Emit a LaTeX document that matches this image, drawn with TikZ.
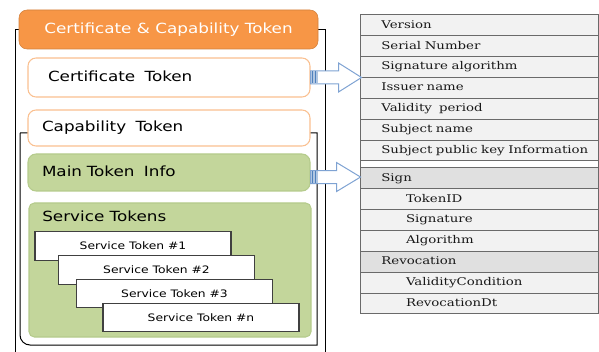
\documentclass[tikz,border=0pt]{standalone}
\usepackage{fontspec}
\usepackage{tikz}
\usetikzlibrary{positioning, calc}
\newfontfamily\gulim[FakeStretch=1.2]{DejaVu Sans}
\newfontfamily\batang[FakeStretch=1.25]{DejaVu Serif}
\definecolor{hdrorange}{HTML}{F79646}
\definecolor{tokedge}{HTML}{FAC090}
\definecolor{infogreen}{HTML}{C3D69B}
\definecolor{greenedge}{HTML}{B5CB8C}
\definecolor{arrowblue}{HTML}{7FA3D3}
\definecolor{stripeblue}{HTML}{4F81BD}
\definecolor{rowgray}{HTML}{F2F2F2}
\definecolor{signgray}{HTML}{E0E0E0}
\definecolor{rowline}{HTML}{6A6A6A}

\begin{document}
\begin{tikzpicture}[x=0.75pt, y=-0.75pt,
  frame/.style={draw=black, line width=0.75pt},
  header/.style={rectangle, rounded corners=6pt, fill=hdrorange, draw=hdrorange!85!black,
    minimum width=224.25pt, minimum height=29.25pt, text=white,
    font=\gulim\fontsize{10.5}{12}\selectfont},
  token/.style={rectangle, rounded corners=6pt, fill=white, draw=tokedge, line width=0.8pt,
    minimum width=211.5pt, align=left, text height=7.8pt, text depth=2.2pt,
    font=\gulim\fontsize{10.5}{12}\selectfont},
  info/.style={token, fill=infogreen, draw=greenedge},
  svcbox/.style={rectangle, draw=black!75, line width=0.9pt, fill=white, outer sep=0pt,
    minimum width=147pt, minimum height=21.4pt, font=\gulim\fontsize{7.7}{9}\selectfont},
  rowbase/.style={rectangle, draw=rowline, line width=0.75pt, fill=rowgray, outer sep=0pt,
    minimum height=15.64pt, inner xsep=0pt, inner ysep=0pt, text width=178.5pt, align=left,
    text height=6pt, text depth=1.8pt, font=\batang\fontsize{8}{9}\selectfont, text=black!90},
  row/.style={rowbase, execute at begin node={\hspace*{16pt}}},
  subrow/.style={rowbase, execute at begin node={\hspace*{34.5pt}}},
  signrow/.style={row, fill=signgray},
  gaprow/.style={rectangle, draw=rowline, line width=0.75pt, fill=white, outer sep=0pt,
    minimum width=178.5pt, minimum height=5.25pt, inner sep=0pt},
  barrow/.style={draw=arrowblue, line width=0.75pt, fill=white, line join=miter}
]
  \useasboundingbox (0,0) rectangle (599,352);

  % outer and inner frames
  \draw[frame] (15,352) -- (15,30) -- (325,30) -- (325,352);
  \draw[frame] (20,133) -- (317,133) -- (317,345) [rounded corners=7.5pt] -- (20,345) -- (20,133);

  % left column
  \node[header] (hdr) at (168.5,29.5) {Certificate \& Capability Token};
  \node[token, minimum height=29.25pt, inner xsep=15pt, text width=181.5pt] (cert) at (169,77.5) {Certificate\ \ Token};
  \node[token, minimum height=27pt, inner xsep=10.5pt, text width=190.5pt] (cap) at (169,128) {Capability\ \ Token};
  \node[info, minimum height=27.75pt, inner xsep=10.5pt, text width=190.5pt] (main) at (169,172.5) {Main Token\ \ Info};

  \node[rectangle, rounded corners=4pt, fill=infogreen, draw=greenedge, line width=0.8pt,
    minimum width=211.5pt, minimum height=100.5pt] (svc) at (170,270) {};
  \node[anchor=west, inner sep=0pt, font=\gulim\fontsize{10.5}{12}\selectfont] (svclbl) at (42,216) {Service Tokens};

  \node[svcbox] (st1) at (133,246) {Service Token \#1};
  \node[svcbox] (st2) at (156.5,270) {Service Token \#2};
  \node[svcbox] (st3) at (174.5,293.5) {Service Token \#3};
  \node[svcbox] (stn) at (201,317.5) {Service Token \#n};

  % right table
  \node[row] (r1) at (479,25.43) {Version};
  \node[row, below=0pt of r1] (r2) {Serial Number};
  \node[row, below=0pt of r2] (r3) {Signature algorithm};
  \node[row, below=0pt of r3] (r4) {Issuer name};
  \node[row, below=0pt of r4] (r5) {Validity\ \ period};
  \node[row, below=0pt of r5] (r6) {Subject name};
  \node[row, below=0pt of r6] (r7) {Subject public key Information};
  \node[gaprow, below=0pt of r7] (gap) {};
  \node[signrow, below=0pt of gap] (r8) {Sign};
  \node[subrow, below=0pt of r8] (r9) {TokenID};
  \node[subrow, below=0pt of r9] (r10) {Signature};
  \node[subrow, below=0pt of r10] (r11) {Algorithm};
  \node[signrow, below=0pt of r11] (r12) {Revocation};
  \node[subrow, below=0pt of r12] (r13) {ValidityCondition};
  \node[subrow, below=0pt of r13] (r14) {RevocationDt};

  % block arrows
  \coordinate (a1s) at (cert.east);
  \coordinate (a2s) at ([yshift=-3.4pt]main.east);
  \begin{scope}[shift={(a1s)}]
    \draw[barrow] (0,-6.5) -- (28,-6.5) -- (28,-14.5) -- (51,0) -- (28,14.5) -- (28,6.5) -- (0,6.5) -- cycle;
    \fill[stripeblue!45] (0.5,-6) rectangle (7,6);
    \draw[stripeblue, line width=1pt] (2.2,-6) -- (2.2,6) (5.2,-6) -- (5.2,6);
  \end{scope}
  \begin{scope}[shift={(a2s)}]
    \draw[barrow] (0,-6.5) -- (26,-6.5) -- (26,-14.5) -- (50,0) -- (26,14.5) -- (26,6.5) -- (0,6.5) -- cycle;
    \fill[stripeblue!45] (0.5,-6) rectangle (7,6);
    \draw[stripeblue, line width=1pt] (2.2,-6) -- (2.2,6) (5.2,-6) -- (5.2,6);
  \end{scope}
\end{tikzpicture}
\end{document}
